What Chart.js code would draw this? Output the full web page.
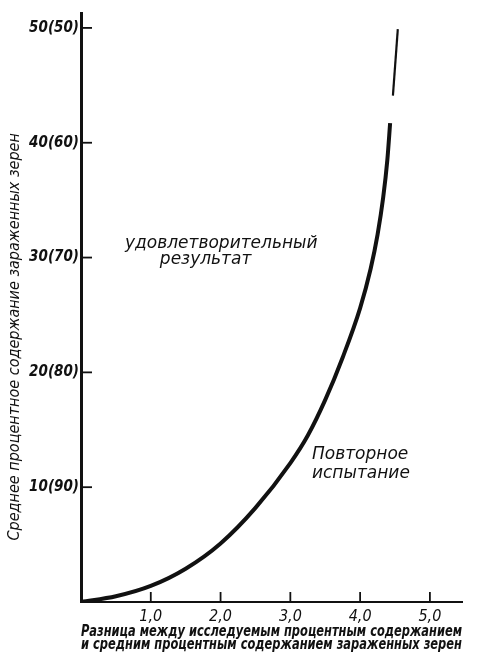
<!DOCTYPE html>
<html lang="ru">
<head>
  <meta charset="UTF-8" />
  <title>Повторное испытание</title>
  <style>
    body {
      margin: 0;
      background: #fff;
      overflow: hidden;
    }
    #wrap {
      width: 481px;
      height: 653px;
      position: relative;
    }
  </style>
</head>
<body>
  <div id="wrap"><canvas id="chart"></canvas></div>

  <script src="https://cdn.jsdelivr.net/npm/chart.js"></script>
  <script>
    // values
    const xTickValues = [1, 2, 3, 4, 5];
    const xTickLabels = ['1,0', '2,0', '3,0', '4,0', '5,0'];
    const yTickValues = [10, 20, 30, 40, 50];
    const yTickLabels = ['10(90)', '20(80)', '30(70)', '40(60)', '50(50)'];

    const curveX = [0, 0.5, 1.0, 1.5, 2.0, 2.5, 3.0, 3.25, 3.5, 3.75, 4.0, 4.15, 4.25, 4.33, 4.39, 4.43];
    const curveY = [0, 0.5, 1.4, 2.9, 5.1, 8.2, 12.1, 14.5, 17.6, 21.3, 25.6, 29.0, 32.0, 35.2, 38.5, 41.7];
    const topX = [4.47, 4.54];
    const topY = [44.1, 49.9];

    const xTitle = ['Разница между исследуемым процентным содержанием',
                    'и средним процентным содержанием зараженных зерен'];
    const yTitle = 'Среднее процентное содержание зараженных зерен';

    const INK = '#111';
    const condensed = "'DejaVu Sans Condensed', 'DejaVu Sans', sans-serif";
    const plain = "'DejaVu Sans', sans-serif";

    const toPoints = (xs, ys) => xs.map((x, i) => ({ x: x, y: ys[i] }));

    // inner tick marks, notes and the vertical title
    const inkMarks = {
      id: 'inkMarks',
      afterDraw(chart) {
        const c = chart.ctx;
        const xs = chart.scales.x;
        const ys = chart.scales.y;
        const area = chart.chartArea;
        c.save();
        c.strokeStyle = INK;
        c.lineWidth = 1.8;
        yTickValues.forEach(v => {
          const py = ys.getPixelForValue(v);
          c.beginPath();
          c.moveTo(area.left, py);
          c.lineTo(area.left + 11, py);
          c.stroke();
        });
        xTickValues.forEach(v => {
          const px = xs.getPixelForValue(v);
          c.beginPath();
          c.moveTo(px, area.bottom);
          c.lineTo(px, area.bottom - 10);
          c.stroke();
        });

        c.fillStyle = INK;
        c.font = 'italic 17px ' + plain;
        c.textBaseline = 'middle';
        c.textAlign = 'left';
        c.fillText('удовлетворительный', xs.getPixelForValue(0.63), ys.getPixelForValue(31.2));
        c.fillText('результат', xs.getPixelForValue(1.13), ys.getPixelForValue(29.8));
        c.fillText('Повторное', xs.getPixelForValue(3.31), ys.getPixelForValue(12.8));
        c.fillText('испытание', xs.getPixelForValue(3.31), ys.getPixelForValue(11.2));

        c.font = 'italic 16px ' + condensed;
        c.textAlign = 'center';
        c.translate(15, ys.getPixelForValue(23.1));
        c.rotate(-Math.PI / 2);
        c.fillText(yTitle, 0, 0);
        c.restore();
      }
    };

    new Chart(document.getElementById('chart'), {
      type: 'line',
      data: {
        datasets: [{
          data: toPoints(curveX, curveY),
          borderColor: INK,
          borderWidth: 4,
          pointRadius: 0,
          fill: false,
          cubicInterpolationMode: 'monotone'
        }, {
          data: toPoints(topX, topY),
          borderColor: INK,
          borderWidth: 2.2,
          pointRadius: 0,
          fill: false
        }]
      },
      options: {
        responsive: true,
        maintainAspectRatio: false,
        animation: false,
        layout: { padding: { top: 13, right: 19, left: 0, bottom: 0 } },
        plugins: { legend: { display: false }, tooltip: { enabled: false } },
        scales: {
          x: {
            type: 'linear',
            min: 0,
            max: 5.46,
            grid: { display: false, drawTicks: false },
            border: { display: true, color: INK, width: 2 },
            afterBuildTicks: s => { s.ticks = xTickValues.map(v => ({ value: v })); },
            afterFit: s => { s.height = 51; },
            ticks: {
              color: INK,
              padding: 5,
              maxRotation: 0,
              font: { family: condensed, size: 16, style: 'italic' },
              callback: (v, i) => xTickLabels[i]
            },
            title: {
              display: true,
              text: xTitle,
              color: INK,
              padding: { top: 0, bottom: 1 },
              font: { family: condensed, size: 15, style: 'italic', weight: 'bold', lineHeight: 0.9 }
            }
          },
          y: {
            type: 'linear',
            min: 0,
            max: 51.3,
            grid: { display: false, drawTicks: false },
            border: { display: true, color: INK, width: 3 },
            afterBuildTicks: s => { s.ticks = yTickValues.map(v => ({ value: v })); },
            afterFit: s => { s.width = 81; },
            ticks: {
              color: INK,
              padding: 2,
              font: { family: condensed, size: 15, style: 'italic', weight: 'bold' },
              callback: (v, i) => yTickLabels[i]
            }
          }
        }
      },
      plugins: [inkMarks]
    });
  </script>
</body>
</html>
